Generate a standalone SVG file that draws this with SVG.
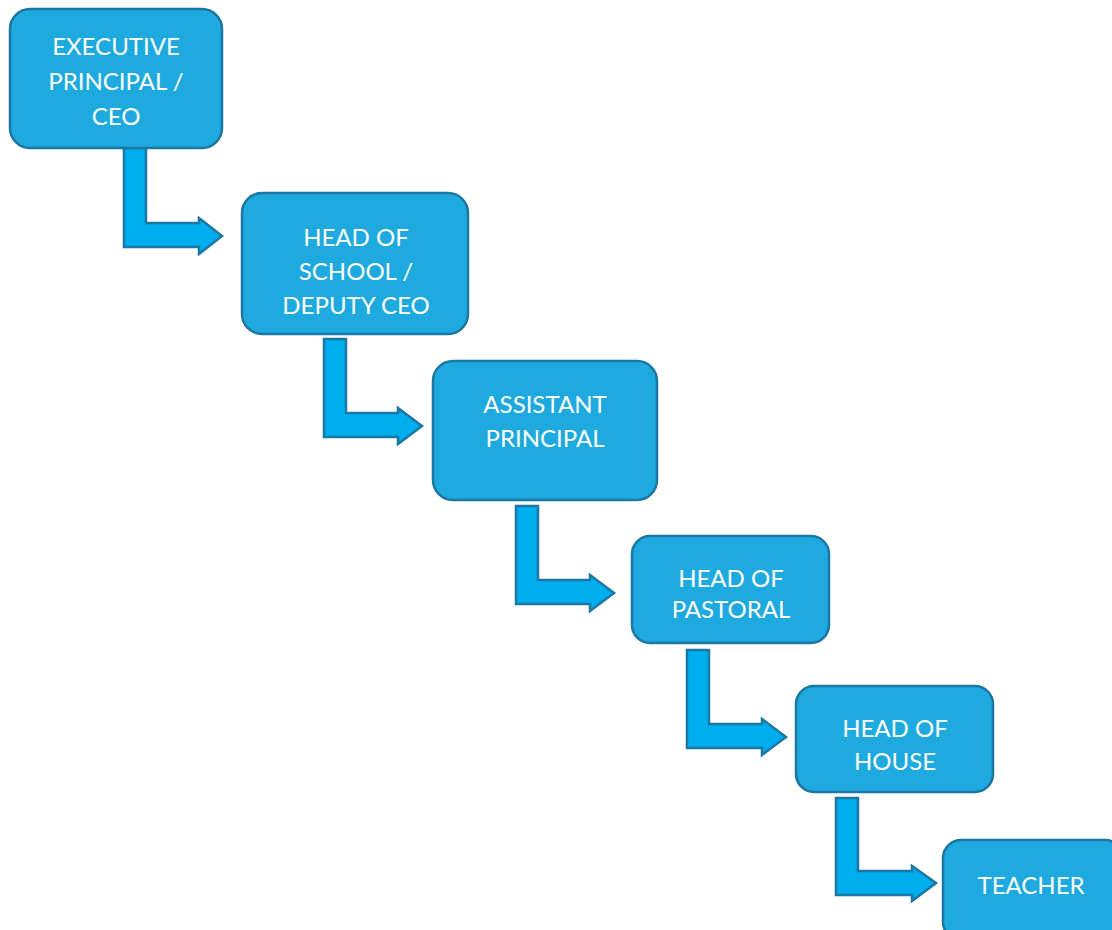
<svg xmlns="http://www.w3.org/2000/svg" width="1112" height="930" viewBox="0 0 1112 930">
<style>
.box{fill:#1eaadf;stroke:#1b77a3;stroke-width:2.5}
.arr{fill:#00adef;stroke:#1b77a3;stroke-width:2.5;stroke-linejoin:miter}
.t{font-family:Lato,"Open Sans",sans-serif;font-size:24px;fill:#fff;text-anchor:middle}
</style>
<rect width="1112" height="930" fill="#fff"/>
<g id="connectors">
<path class="arr" d="M124,148 H146 V223 H199 V218 L222,236 L199,254 V247 H124 Z"/>
<path class="arr" d="M324,339 H346 V413 H398 V408 L422,426 L398,444 V437 H324 Z"/>
<path class="arr" d="M516,506 H538 V580 H590 V575 L614,593 L590,611 V604 H516 Z"/>
<path class="arr" d="M687,650 H709 V724 H762 V719 L786,737 L762,755 V748 H687 Z"/>
<path class="arr" d="M836,798 H858 V871 H912 V866 L936,883 L912,901 V895 H836 Z"/>
</g>
<g id="n1"><rect class="box" x="10" y="9" width="212" height="139" rx="20"/>
<text class="t" x="116" y="55">EXECUTIVE</text><text class="t" x="116" y="90">PRINCIPAL /</text><text class="t" x="116" y="125">CEO</text></g>
<g id="n2"><rect class="box" x="242" y="193" width="226" height="141" rx="20"/>
<text class="t" x="356" y="246">HEAD OF</text><text class="t" x="356" y="280">SCHOOL /</text><text class="t" x="356" y="314">DEPUTY CEO</text></g>
<g id="n3"><rect class="box" x="433" y="361" width="224" height="139" rx="20"/>
<text class="t" x="545" y="413">ASSISTANT</text><text class="t" x="545" y="447">PRINCIPAL</text></g>
<g id="n4"><rect class="box" x="632" y="536" width="197" height="107" rx="18"/>
<text class="t" x="731" y="587">HEAD OF</text><text class="t" x="731" y="618">PASTORAL</text></g>
<g id="n5"><rect class="box" x="796" y="686" width="197" height="106" rx="18"/>
<text class="t" x="895" y="737">HEAD OF</text><text class="t" x="895" y="770">HOUSE</text></g>
<g id="n6"><rect class="box" x="943" y="840" width="180" height="100" rx="18"/>
<text class="t" x="1031" y="894">TEACHER</text></g>
</svg>
